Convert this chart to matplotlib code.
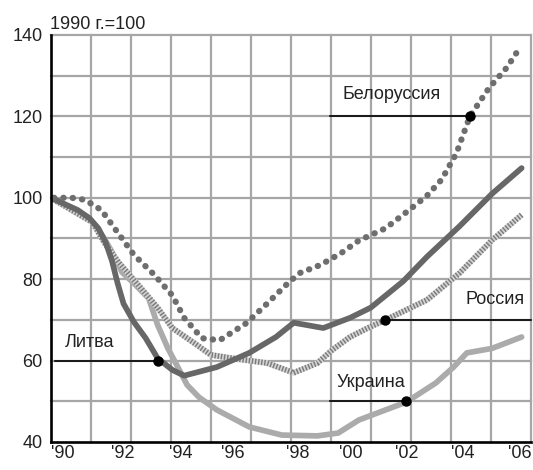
import numpy as np
import matplotlib.pyplot as plt

plt.rcParams['font.family'] = ['Liberation Sans', 'DejaVu Sans']

# Литва
lit_x = [1990, 1990.9, 1991.3, 1991.6, 1991.85, 1992.06, 1992.25, 1992.45, 1992.8, 1993.2, 1993.6,
         1994.1, 1994.5, 1995.6, 1996.7, 1997.6, 1998.2, 1999.2, 2000.1, 2000.8, 2001.9,
         2002.7, 2003.8, 2004.9, 2005.9]
lit_y = [100, 97, 95, 92.5, 89, 84.5, 79, 74, 69.5, 65.5, 60.6,
         57.7, 56.3, 58.4, 61.9, 65.8, 69.3, 68, 70.5, 73, 79.5,
         85.5, 93, 101, 107.3]

# Белоруссия
bel_x = [1990.1, 1990.7, 1991.15, 1991.7, 1992.3, 1992.8, 1993.5, 1994.1, 1994.5, 1995.1,
         1995.7, 1996.6, 1997.3, 1998.0, 1998.4, 1999.1, 1999.8, 2000.4, 2001.3, 2002.1,
         2002.7, 2003.2, 2003.7, 2004.15, 2004.8, 2005.4, 2005.85]
bel_y = [100, 100, 99.5, 97, 91, 86, 81, 76, 70.5, 65.5,
         65, 69.2, 74, 79, 81.5, 83.5, 86.4, 89.5, 92.5, 97,
         100.5, 104.5, 111, 120, 127, 132, 137]

# Россия
rus_x = [1990, 1991.4, 1991.8, 1992.3, 1992.9, 1993.6, 1994.1, 1994.9, 1995.4, 1996.1,
         1996.7, 1997.3, 1998.2, 1999.0, 1999.5, 2000.1, 2000.7, 2001.3, 2002.7, 2003.8,
         2004.9, 2005.9]
rus_y = [100, 94, 89, 84, 79, 73, 68, 64, 61.4, 60.6,
         60, 59.4, 57, 59.4, 62.6, 65.8, 68, 70, 74.9, 81.5,
         89.6, 95.8]

# Украина
ukr_x = [1990, 1991.4, 1991.8, 1992.06, 1992.4, 1992.8, 1993.3, 1993.6, 1993.95, 1994.3,
         1994.6, 1995.0, 1995.6, 1996.7, 1997.8, 1999.0, 1999.7, 2000.4, 2002.0, 2003.0,
         2003.6, 2004.05, 2004.9, 2005.9]
ukr_y = [100, 94, 90, 86.7, 81.7, 79, 75.3, 68.8, 63, 58.2,
         54, 51, 47.9, 43.7, 41.7, 41.5, 42.2, 45.4, 49.8, 54.5,
         58.4, 61.9, 63, 65.8]

tick_pos = [1990.4, 1992.43, 1994.39, 1996.15, 1998.34, 2000.14, 2002.03, 2003.92, 2005.84]
tick_lab = ["'90", "'92", "'94", "'96", "'98", "'00", "'02", "'04", "'06"]

# подписи: текст, позиция текста, начало выноски, точка
labels = [
    ('Литва', 1990.47, 64.4, 1990.13, 1993.6, 60),
    ('Белоруссия', 1999.86, 125.3, 1999.43, 2004.15, 120),
    ('Россия', 2004.0, 75.1, 2006.2, 2001.3, 70),
    ('Украина', 1999.66, 54.5, 1999.43, 2002.0, 50),
]

fig = plt.figure(figsize=(5.33, 4.70), dpi=100)
ax = fig.add_axes([51/533, 28/470, 480/533, 407/470])
x0, x1 = 1990, 1990 + 480/29.6
ax.set_xlim(x0, x1)
ax.set_ylim(40, 140)

grid_c = '#a6a6a6'
for gx in np.linspace(x0, x1, 13)[1:]:
    ax.axvline(gx, color=grid_c, lw=1.6, zorder=1, clip_on=False)
for gy in range(50, 141, 10):
    ax.axhline(gy, color=grid_c, lw=1.6, zorder=1, clip_on=False)

for s in ['top', 'right']:
    ax.spines[s].set_visible(False)
for s in ['left', 'bottom']:
    ax.spines[s].set_linewidth(1.9)
    ax.spines[s].set_color('black')
    ax.spines[s].set_zorder(6)

lw = 4.1
ax.plot(ukr_x, ukr_y, color='#ababab', lw=lw, solid_capstyle='round', solid_joinstyle='round', zorder=2)
ax.plot(rus_x, rus_y, color='#d4d4d4', lw=lw, solid_capstyle='butt', zorder=3)
ax.plot(rus_x, rus_y, color='#7a7a7a', lw=lw, dashes=(0.25, 0.3), dash_capstyle='butt', zorder=3)
ax.plot(lit_x, lit_y, color='#676767', lw=lw, solid_capstyle='round', solid_joinstyle='round', zorder=4)
ax.plot(bel_x, bel_y, color='#6e6e6e', lw=4.5, dashes=(0.05, 1.45), dash_capstyle='round', zorder=5)

for txt, tx, ty, lx, dx, dy in labels:
    ax.plot([lx, dx], [dy, dy], color='black', lw=1.2, zorder=7, clip_on=False)
    ax.plot(dx, dy, 'o', color='black', ms=6.5, zorder=8)
    ax.text(tx, ty, txt, fontsize=13, ha='left', va='center', color='#222222', zorder=9)

ax.set_yticks([40, 60, 80, 100, 120, 140])
ax.set_xticks(tick_pos)
ax.set_xticklabels(tick_lab)
ax.tick_params(axis='both', length=0, labelsize=13, colors='#222222')
ax.tick_params(axis='y', pad=6)
ax.tick_params(axis='x', pad=2)

fig.text(50/533, 1 - 29/470, '1990 г.=100', fontsize=13, ha='left', va='baseline', color='#222222')

fig.savefig('out.png', dpi=100)
